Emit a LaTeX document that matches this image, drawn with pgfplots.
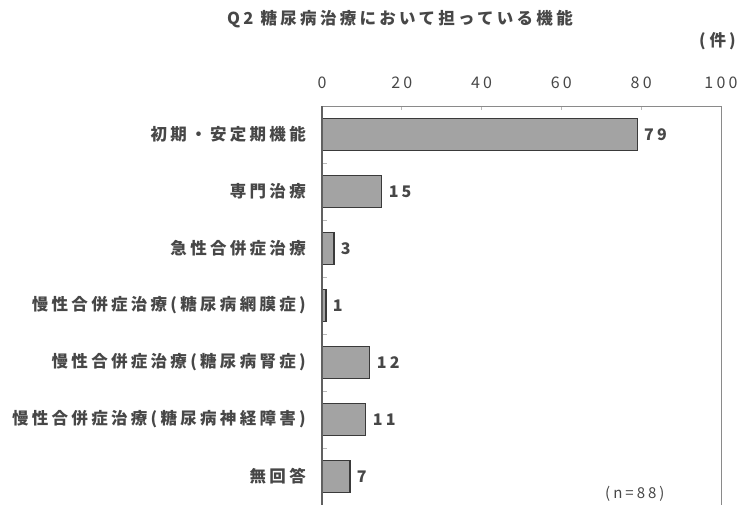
\documentclass[border=0pt]{standalone}
\usepackage{fontspec}
\setmainfont{Noto Sans CJK JP}[LetterSpace=20]
\usepackage{pgfplots}
\pgfplotsset{compat=1.18}
\definecolor{txt}{HTML}{474747}
\definecolor{barfill}{HTML}{A3A3A3}
\definecolor{baredge}{HTML}{3A3A3A}
\definecolor{frame}{HTML}{8A8A8A}
\newcommand{\lf}{\fontsize{16.5}{18}\selectfont\bfseries}
\begin{document}
\begin{tikzpicture}[x=1pt,y=1pt]
\path[use as bounding box] (-322pt,0pt) rectangle (417pt,505pt);
\begin{axis}[
  at={(0,0)}, anchor=south west,
  scale only axis, width=399pt, height=399pt,
  xmin=0, xmax=100, ymin=-0.5, ymax=6.5,
  xbar, bar width=32pt,
  axis line style={draw=frame, line width=0.8pt},
  xtick={0,20,40,60,80,100},
  xticklabel pos=upper,
  xtick pos=upper,
  xtick align=inside,
  major tick length=4pt,
  tick style={draw=frame!60, line width=0.6pt},
  xticklabel style={inner sep=0pt, anchor=south, yshift=17pt, text=txt, font=\fontsize{16}{18}\selectfont},
  ytick={0,1,2,3,4,5,6},
  yticklabels={無回答, 慢性合併症治療(糖尿病神経障害), 慢性合併症治療(糖尿病腎症), 慢性合併症治療(糖尿病網膜症), 急性合併症治療, 専門治療, 初期・安定期機能},
  ytick style={draw=none},
  extra y ticks={0.5,1.5,2.5,3.5,4.5,5.5},
  extra y tick labels={},
  extra y tick style={ytick style={draw=frame!60, line width=0.6pt}, ytick pos=lower, ytick align=inside, major tick length=5pt},
  yticklabel style={inner sep=0pt, anchor=east, xshift=-12pt, text=txt, font=\lf},
  /pgf/number format/assume math mode=true,
  nodes near coords,
  nodes near coords style={font=\fontsize{16}{18}\selectfont\bfseries, text=txt, anchor=west, xshift=3pt},
  clip=false,
]
\addplot[fill=barfill, draw=baredge, line width=1.2pt] coordinates {
  (7,0) (11,1) (12,2) (1,3) (3,4) (15,5) (79,6)
};
\draw[line width=1.4pt, draw=baredge!80] (axis cs:0,-0.5) -- (axis cs:0,6.5);
\end{axis}
\node[text=txt, font=\lf, anchor=base] at (78pt,480pt) {Q2 糖尿病治療において担っている機能};
\node[text=txt, font=\lf, anchor=base east, inner sep=1pt] at (415pt,458pt) {(\hspace{4pt}件\hspace{3pt})};
\node[text=txt, font=\fontsize{15}{17}\selectfont, anchor=base east] at (346pt,6pt) {(n=88)};
\end{tikzpicture}
\end{document}
